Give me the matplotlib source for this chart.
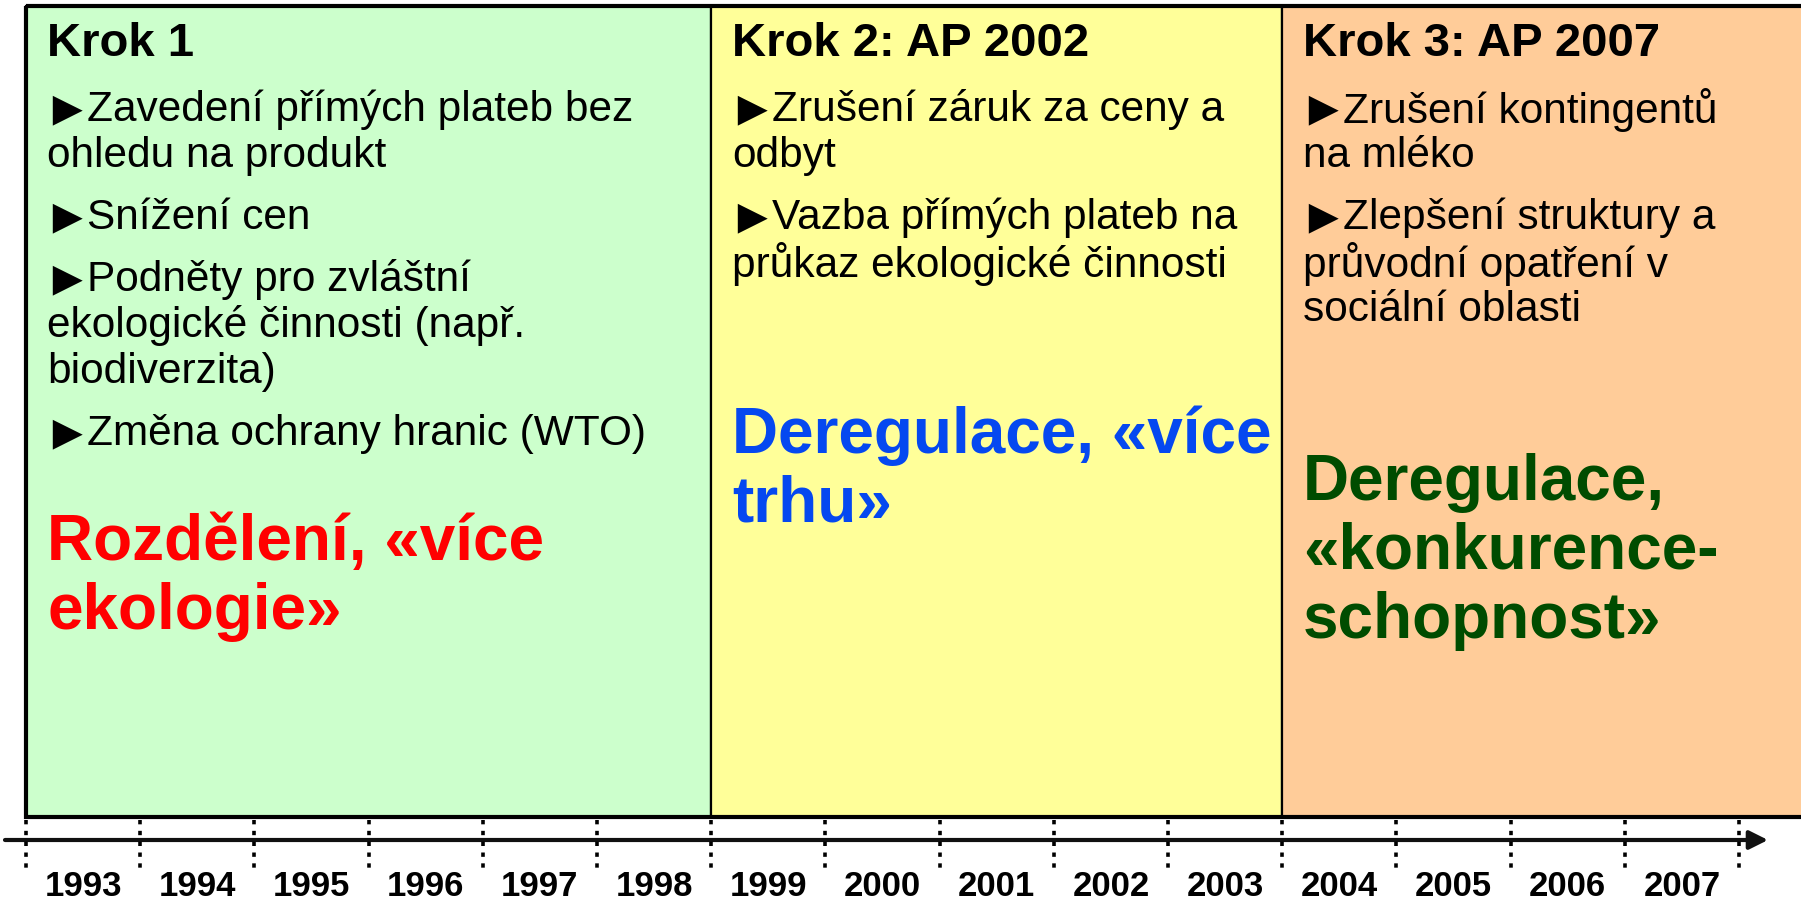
import matplotlib
matplotlib.use('Agg')
import matplotlib.pyplot as plt
from matplotlib.patches import Rectangle

plt.rcParams['font.family'] = ['Liberation Sans', 'DejaVu Sans']

# timeline data
years = list(range(1993, 2008))
step_starts = [1993, 1999, 2004]
step_ends = [1999, 2004, 2009]
step_colors = ['#ccffcc', '#ffff99', '#ffcc99']

titles = ['Krok 1', 'Krok 2: AP 2002', 'Krok 3: AP 2007']

# each bullet is a list of wrapped lines
bullets_1 = [
    ['Zavedení přímých plateb bez', 'ohledu na produkt'],
    ['Snížení cen'],
    ['Podněty pro zvláštní', 'ekologické činnosti (např.', 'biodiverzita)'],
    ['Změna ochrany hranic (WTO)'],
]
bullets_2 = [
    ['Zrušení záruk za ceny a', 'odbyt'],
    ['Vazba přímých plateb na', 'průkaz ekologické činnosti'],
]
bullets_3 = [
    ['Zrušení kontingentů', 'na mléko'],
    ['Zlepšení struktury a', 'průvodní opatření v', 'sociální oblasti'],
]
bullets = [bullets_1, bullets_2, bullets_3]

slogans = [
    ['Rozdělení, «více', 'ekologie»'],
    ['Deregulace, «více', 'trhu»'],
    ['Deregulace,', '«konkurence-', 'schopnost»'],
]
slogan_colors = ['#ff0000', '#0548f0', '#004c00']
slogan_y = [543, 436, 483]

W, H = 1801, 903
PX = 114.2  # pixels per year on the time axis
fig = plt.figure(figsize=(W / 100, H / 100), dpi=100)
ax = fig.add_axes([0, 0, 1, 1])
x0 = 1993 - 26 / PX
x1 = 2008 + (W - 1739) / PX
ax.set_xlim(x0, x1)
ax.set_ylim(H, 0)
ax.axis('off')

top, bottom = 7, 818
pad = 21 / PX

for i in range(3):
    ax.add_patch(Rectangle((step_starts[i], top), step_ends[i] - step_starts[i],
                           bottom - top, facecolor=step_colors[i],
                           edgecolor='black', lw=1.6, zorder=1))
# heavier outer frame
ax.add_patch(Rectangle((step_starts[0], top), step_ends[-1] - step_starts[0],
                       bottom - top, facecolor='none', edgecolor='black',
                       lw=3, zorder=2))

for i in range(3):
    tx = step_starts[i] + pad
    ax.text(tx, 44, titles[i], fontsize=34, fontweight='bold',
            va='center', ha='left', zorder=3)
    y = 110
    for para in bullets[i]:
        ax.text(tx - 5 / PX, y + 1, '►', fontsize=36, va='center', ha='left',
                zorder=3)
        for j, line in enumerate(para):
            lx = tx + 40 / PX if j == 0 else tx
            ax.text(lx, y, line, fontsize=30.5, va='center', ha='left',
                    zorder=3)
            y += 46
        y += 16
    y = slogan_y[i]
    for line in slogans[i]:
        ax.text(tx, y, line, fontsize=46, fontweight='bold',
                color=slogan_colors[i], va='center', ha='left', zorder=3)
        y += 69

# time axis
line_y = 841
ax.annotate('', xy=(2008 + 29 / PX, line_y), xytext=(x0 + 5 / PX, line_y),
            arrowprops=dict(arrowstyle='-|>', lw=3, color='#111111',
                            mutation_scale=28, shrinkA=0, shrinkB=0))
ax.vlines(years + [2008], 821, 872, colors='black', lw=2.6,
          linestyles=(0, (1.2, 1.8)), zorder=3)
for yr in years:
    ax.text(yr + 0.5, 887, str(yr), fontsize=25, fontweight='bold',
            ha='center', va='center')

plt.savefig('out.png', dpi=100)
